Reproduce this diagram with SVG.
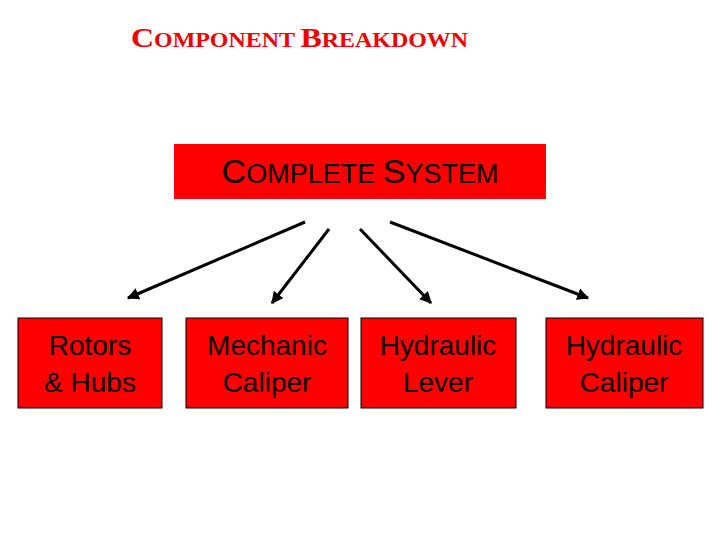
<svg xmlns="http://www.w3.org/2000/svg" width="720" height="540" viewBox="0 0 720 540">
<style>
.box{fill:#ff0000;stroke:#000;stroke-width:1}
.lbl{font-family:"Liberation Sans",Arial,sans-serif;font-size:28px;fill:#000;text-anchor:middle}
.ttl{font-family:"Liberation Serif","Times New Roman",serif;font-weight:bold;fill:#ee0000}
.con{stroke:#000;stroke-width:3;fill:none;marker-end:url(#ah)}
</style>
<defs><marker id="ah" viewBox="0 0 10 10" refX="9" refY="5" markerWidth="4" markerHeight="4" orient="auto"><path d="M0,0L10,5L0,10z" fill="#000"/></marker></defs>
<rect width="720" height="540" fill="#fff"/>
<text class="ttl" x="131" y="47" textLength="337" lengthAdjust="spacingAndGlyphs"><tspan font-size="28">C</tspan><tspan font-size="21">OMPONENT </tspan><tspan font-size="28">B</tspan><tspan font-size="21">REAKDOWN</tspan></text>
<g id="complete-system"><rect class="box" x="174" y="144" width="372" height="55" style="stroke:none"/>
<text x="360" y="183" font-family="Liberation Sans,Arial,sans-serif" text-anchor="middle" fill="#000"><tspan font-size="34">C</tspan><tspan font-size="27">OMPLETE </tspan><tspan font-size="34">S</tspan><tspan font-size="27">YSTEM</tspan></text></g>
<g id="connectors">
<line class="con" x1="305" y1="222" x2="128" y2="298"/>
<line class="con" x1="329" y1="229" x2="272" y2="303"/>
<line class="con" x1="360" y1="229" x2="431" y2="303"/>
<line class="con" x1="390" y1="222" x2="588" y2="298"/>
</g>
<g id="rotors"><rect class="box" x="18" y="318" width="144" height="90"/><text class="lbl" x="90" y="355">Rotors</text><text class="lbl" x="90" y="392">&amp; Hubs</text></g>
<g id="mechanic"><rect class="box" x="186" y="318" width="162" height="90"/><text class="lbl" x="267" y="355">Mechanic</text><text class="lbl" x="267" y="392">Caliper</text></g>
<g id="hyd-lever"><rect class="box" x="361" y="318" width="155" height="90"/><text class="lbl" x="438" y="355">Hydraulic</text><text class="lbl" x="438" y="392">Lever</text></g>
<g id="hyd-caliper"><rect class="box" x="546" y="318" width="157" height="90"/><text class="lbl" x="624" y="355">Hydraulic</text><text class="lbl" x="624" y="392">Caliper</text></g>
</svg>
